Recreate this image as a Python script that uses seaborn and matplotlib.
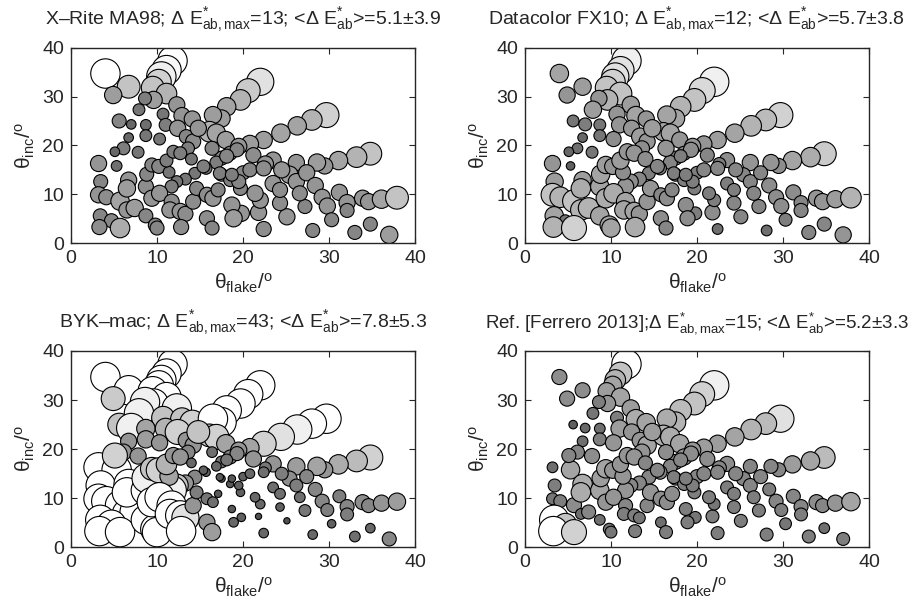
import numpy as np
import pandas as pd
import matplotlib
matplotlib.use("Agg")
import matplotlib.pyplot as plt
from matplotlib.colors import LinearSegmentedColormap
import seaborn as sns

sns.set_style("ticks")
plt.rcParams['font.family'] = ['Liberation Sans', 'DejaVu Sans']
plt.rcParams['mathtext.fontset'] = 'custom'
plt.rcParams['mathtext.rm'] = 'Liberation Sans'
plt.rcParams['mathtext.it'] = 'Liberation Sans:italic'
plt.rcParams['mathtext.bf'] = 'Liberation Sans:bold'
plt.rcParams['xtick.direction'] = 'in'
plt.rcParams['ytick.direction'] = 'in'

# measurement geometries (flake angle, incidence angle) in degrees
theta_flake = [4.0, 6.7, 4.9, 11.8, 11.1, 10.5, 10.2, 9.5, 11.1, 9.6, 8.6, 12.3, 7.9, 10.7, 12.9, 14.1,
               5.6, 7.0, 8.7, 11.0, 12.4, 6.7, 8.7, 10.3, 13.4, 14.2,
               22.0, 20.6, 19.7, 18.1, 17.5, 16.5, 16.1, 16.9, 18.0, 14.8,
               29.7, 28.0, 26.3, 24.4, 22.4, 20.8, 19.5, 18.5, 17.5, 16.9, 15.7, 14.4, 13.3, 12.3, 11.7,
               34.8, 33.2, 31.1, 29.5, 28.6, 26.2, 23.5, 21.2, 19.3, 18.1,
               25.4, 26.2, 27.4, 28.4, 29.2, 29.8, 31.2, 32.1, 32.1, 33.9, 34.6, 36.1, 37.9,
               34.8, 33.0, 37.0, 30.3, 28.1, 22.4, 21.8, 25.1, 24.3, 27.2, 22.0, 21.4, 23.5, 24.3,
               26.6, 19.7, 20.0, 22.6, 24.5, 19.8,
               3.2, 5.3, 3.45, 3.2, 4.1, 5.7, 6.5, 7.4, 3.4, 4.7, 3.3, 5.7, 8.7, 9.8, 10.0,
               6.1, 5.1, 7.8, 6.7, 6.5, 8.7, 8.8, 9.4, 10.2, 11.4, 11.1, 9.4, 10.3, 11.7, 11.5,
               12.7, 13.3, 12.8, 14.2, 14.6, 15.8, 16.5, 17.1, 15.8, 16.4, 18.7, 18.9, 17.5, 18.5,
               19.5, 11.9, 13.6, 12.7, 14.0, 15.4, 20.8, 22.4, 17.3, 18.7, 16.4]
theta_inc = [34.7, 32.0, 30.3, 37.3, 35.4, 34.1, 33.0, 31.8, 30.6, 29.3, 29.6, 28.3, 27.3, 26.4, 26.1, 25.4,
             25.0, 24.3, 24.2, 24.2, 23.5, 21.6, 22.0, 21.3, 21.8, 20.8,
             33.0, 31.2, 29.3, 27.9, 25.5, 26.2, 22.8, 22.5, 21.1, 23.5,
             26.2, 25.2, 24.0, 22.5, 21.1, 20.3, 19.8, 18.4, 17.4, 16.5, 15.3, 14.3, 13.1, 12.6, 11.6,
             18.3, 17.6, 16.9, 15.8, 16.5, 16.5, 17.0, 18.0, 19.1, 17.8,
             14.0, 12.6, 14.4, 11.8, 9.4, 7.6, 10.4, 8.3, 6.7, 9.2, 8.5, 9.0, 9.3,
             3.9, 2.2, 1.7, 4.8, 2.6, 2.9, 6.3, 5.4, 8.2, 7.5, 8.8, 10.2, 12.2, 10.9,
             10.2, 11.2, 14.4, 16.2, 15.0, 6.1,
             16.3, 15.8, 12.6, 9.9, 9.4, 8.6, 6.8, 7.2, 5.6, 4.6, 3.3, 3.1, 5.6, 3.7, 3.1,
             19.4, 18.7, 18.6, 12.9, 11.2, 11.6, 14.1, 16.0, 15.7, 14.5, 16.9, 9.2, 10.2, 8.5, 6.8,
             6.5, 6.0, 3.3, 8.5, 11.2, 9.9, 9.2, 10.9, 5.1, 3.1, 7.8, 5.1, 14.0, 12.9,
             12.6, 18.7, 19.4, 18.4, 17.2, 15.7, 15.0, 15.3, 14.3, 14.0, 19.4]

# colour difference dE*ab per geometry, one list per instrument
de_xrite = [13, 9, 6.5, 13, 12.5, 12, 10, 9, 8, 6.5, 4.5, 6, 4, 4, 6, 6,
            5, 3, 3.5, 4.5, 6, 3, 4, 4, 5, 5.5,
            11, 9.5, 8, 7, 6.5, 6.5, 8, 7, 6.5, 6,
            10, 8, 7, 7, 6.5, 6.5, 6, 5, 5, 4.5, 4, 4, 4, 4, 4.5,
            9, 8, 7, 6, 6.5, 6, 6, 5.5, 5, 5,
            6.5, 6, 6, 6, 6, 6, 6, 6, 5, 6, 6, 7, 9,
            5, 5, 6.5, 5, 5, 5.5, 6, 6, 5.5, 5, 6, 6, 6, 5.5,
            5.5, 5, 5, 6, 6, 6,
            6, 3.5, 5, 6, 5.5, 7, 6, 6.5, 5, 5, 5.5, 7.5, 5, 5, 5,
            4.5, 3, 4, 6, 6.5, 5.5, 5, 5, 5, 4, 4.5, 6, 6, 5.5, 6,
            6, 5.5, 5.5, 5.5, 5, 5.5, 6, 5, 5.5, 5, 6, 6.5, 4.5, 4.5,
            5, 4.5, 4.5, 4.5, 4, 4.5, 5, 5.5, 4.5, 4.5, 5]
de_datacolor = [7, 6.5, 6, 12, 11, 11, 10, 9, 9, 8, 6, 6.5, 6.5, 6, 7, 6,
                4, 4.5, 4, 6, 6, 3, 4, 5.5, 6.5, 6,
                12, 10.5, 9, 8, 7, 7, 7, 7, 6, 6.5,
                10, 8.5, 8, 7, 6.5, 6, 6, 5, 5, 5, 4.5, 4.5, 5, 5.5, 6,
                9.5, 7.5, 7, 5.5, 6, 6, 5.5, 5, 5.5, 4.5,
                5, 5, 5, 5.5, 5.5, 5.5, 5.5, 5, 5, 6, 6, 6.5, 8,
                5, 5, 6, 4.5, 3.5, 3.5, 5.5, 5, 5, 5, 4.5, 4.5, 4.5, 4.5,
                5, 4.5, 4.5, 4.5, 5, 4.5,
                6, 2.5, 6.5, 9, 8, 9, 8, 8, 7, 4, 8, 10, 7, 7, 7,
                3.5, 3, 4, 6.5, 7.5, 7, 7, 6.5, 6, 5.5, 6.5, 7.5, 7.5, 7, 7,
                7, 6, 7.5, 6, 6, 5, 5.5, 5, 5.5, 5, 5.5, 5.5, 4.5, 4.5,
                4.5, 6, 5.5, 6, 5.5, 5, 5, 5, 4.5, 4.5, 6]
de_byk = [13, 13, 9.5, 13, 13, 13, 13, 13, 13, 13, 12, 12, 12, 9, 9, 10,
          9, 12, 7, 8, 10, 6, 6.5, 6, 6, 6,
          13, 13, 13, 13, 13, 13, 9, 10, 7, 9,
          13, 13, 12, 11, 10, 7, 6, 5, 4, 3, 2.5, 5, 6, 9, 12,
          10, 8.5, 7.5, 6, 7, 6.5, 6, 6, 5, 4,
          5.5, 4.5, 5, 5, 5, 4.5, 4.5, 5, 4.5, 5.5, 5, 6, 6.5,
          3, 3.5, 5, 2.5, 3, 3, 1.5, 1.5, 2.5, 4, 3, 3, 3.5, 3.5,
          3.5, 2.5, 2.5, 4, 4.5, 2.5,
          13, 13, 13, 13, 13, 13, 13, 13, 13, 13, 13, 13, 13, 13, 13,
          6, 10, 6, 13, 13, 13, 12, 9, 10, 7, 8, 13, 13, 13, 13,
          13, 11, 13, 6, 4.5, 4, 3.5, 2, 6, 6.5, 2, 3, 2, 2,
          2.5, 6, 5, 6, 3, 2.5, 3, 3.5, 2, 2, 3.5]
de_ferrero = [5.5, 5.5, 5.5, 13, 9, 8, 7, 6.5, 7, 6, 4.5, 6.5, 4, 4.5, 7.5, 7,
              2.5, 3, 3.5, 6.5, 6, 3.5, 4.5, 6, 6, 7,
              12, 10, 9, 8.5, 8, 7.5, 8, 7.5, 7, 6.5,
              11, 8.5, 8, 7, 6.5, 6.5, 6, 6, 5.5, 5, 5, 5, 5, 5, 6,
              8.5, 7, 6.5, 5, 5, 5, 5.5, 5.5, 5.5, 5,
              5, 5, 5, 4.5, 5, 4.5, 5, 5, 4.5, 5.5, 5, 6, 7,
              3.5, 4.5, 4.5, 4, 4.5, 4.5, 4.5, 4.5, 4.5, 4.5, 4, 4.5, 4.5, 4.5,
              4.5, 4.5, 5, 5, 5, 4,
              3.5, 7, 4.5, 4, 4.5, 5.5, 3.5, 5, 13, 9, 13, 10, 3.5, 4, 4,
              5, 5, 5.5, 7.5, 7.5, 7, 6.5, 7, 6, 6, 6, 6, 6, 5, 4.5,
              4.5, 4, 4.5, 5, 6, 5.5, 5.5, 5.5, 3.5, 4.5, 4.5, 4.5, 4.5, 4.5,
              4.5, 6, 6, 6, 5, 5, 5, 5, 4.5, 4.5, 5.5]

titles = ["X\u2013Rite MA98; \u0394 $\\mathrm{E}^{*}_{\\mathrm{ab,max}}$=13; <\u0394 $\\mathrm{E}^{*}_{\\mathrm{ab}}$>=5.1\u00b13.9",
          "Datacolor FX10; \u0394 $\\mathrm{E}^{*}_{\\mathrm{ab,max}}$=12; <\u0394 $\\mathrm{E}^{*}_{\\mathrm{ab}}$>=5.7\u00b13.8",
          "BYK\u2013mac; \u0394 $\\mathrm{E}^{*}_{\\mathrm{ab,max}}$=43; <\u0394 $\\mathrm{E}^{*}_{\\mathrm{ab}}$>=7.8\u00b15.3",
          "Ref. [Ferrero 2013];\u0394 $\\mathrm{E}^{*}_{\\mathrm{ab,max}}$=15; <\u0394 $\\mathrm{E}^{*}_{\\mathrm{ab}}$>=5.2\u00b13.3"]
panels = [de_xrite, de_datacolor, de_byk, de_ferrero]

de_cap = 13.0
size_cap = 12.0
gray_map = LinearSegmentedColormap.from_list("grayish", ["#3a3a3a", "#ffffff"])


def marker_area(de):
    # marker diameter grows linearly with dE (capped), area in points^2
    d_px = 2.2 * np.clip(de, 0, size_cap) + 3.0
    return (d_px * 0.72) ** 2


a_lo, a_hi = marker_area(0.0), marker_area(size_cap)

fig = plt.figure(figsize=(9.13, 6.08), dpi=100)
boxes = [[0.0778, 0.600, 0.3768, 0.3217],
         [0.5750, 0.600, 0.3768, 0.3217],
         [0.0778, 0.0998, 0.3768, 0.3229],
         [0.5750, 0.0998, 0.3768, 0.3229]]

for i, (box, de, title) in enumerate(zip(boxes, panels, titles)):
    ax = fig.add_axes(box)
    df = pd.DataFrame({"flake": theta_flake, "inc": theta_inc, "dE": de})
    df["dE_c"] = df["dE"].clip(upper=de_cap)
    df["area"] = marker_area(df["dE"].to_numpy())
    sns.scatterplot(data=df, x="flake", y="inc", hue="dE_c", palette=gray_map,
                    hue_norm=(0, de_cap), size="area", sizes=(a_lo, a_hi),
                    size_norm=(a_lo, a_hi), edgecolor="black", linewidth=0.8,
                    alpha=1, legend=False, ax=ax)
    ax.set_xlim(0, 40)
    ax.set_ylim(0, 40)
    ax.set_xticks([0, 10, 20, 30, 40])
    ax.set_yticks([0, 10, 20, 30, 40])
    ax.tick_params(labelsize=14, top=True, right=True, length=4, width=0.8, pad=5)
    for sp in ax.spines.values():
        sp.set_linewidth(1.0)
    ax.set_xlabel("\u03b8$_{\\mathrm{flake}}$/$^{\\mathrm{o}}$", fontsize=15, labelpad=3)
    ax.set_ylabel("\u03b8$_{\\mathrm{inc}}$/$^{\\mathrm{o}}$", fontsize=15, labelpad=4)
    fs = 14 if i < 3 else 13.5
    ax.set_title(title, fontsize=fs, pad=17)

fig.savefig("out.png", dpi=100)
